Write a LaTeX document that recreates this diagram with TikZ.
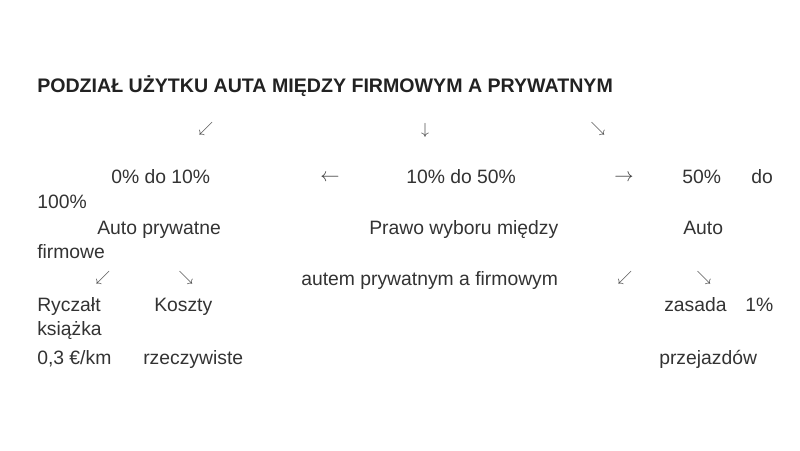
\documentclass[tikz,border=0pt]{standalone}
\usepackage{fontspec}
\setmainfont{Liberation Sans}
\definecolor{textgray}{HTML}{333333}
\definecolor{titlegray}{HTML}{222222}
\definecolor{arrowgray}{HTML}{3a3a3a}
\tikzset{
  txt/.style={anchor=base west, inner sep=0pt, text=textgray, font=\fontsize{14.5}{17}\selectfont},
  ttl/.style={anchor=base west, inner sep=0pt, text=titlegray, font=\fontsize{14.7}{17}\selectfont\bfseries},
  arr/.style={anchor=center, inner sep=0pt, text=arrowgray, font=\fontsize{14}{16}\selectfont},
  diag/.style={arr, font=\fontsize{10.5}{12}\selectfont},
}
\begin{document}
\begin{tikzpicture}[x=0.75pt,y=-0.75pt]
    \useasboundingbox (0,0) rectangle (800,450);
    \fill[white] (0,0) rectangle (800,450);
    \node[ttl] (title) at (37,92) {PODZIAŁ UŻYTKU AUTA MIĘDZY FIRMOWYM A PRYWATNYM};
    % first row of arrows
    \node[diag] (a1) at (206,129) {$\swarrow$};
    \node[arr, font=\fontsize{12.5}{14}\selectfont] (a2) at (425,130) {$\downarrow$};
    \node[diag] (a3) at (598,129) {$\searrow$};
    % three shares
    \node[txt] (s1) at (111,183) {0\% do 10\%};
    \node[arr] (al) at (330,178) {$\leftarrow$};
    \node[txt] (s2) at (406,183) {10\% do 50\%};
    \node[arr] (ar) at (624,178) {$\rightarrow$};
    \node[txt] (s3) at (682,183) {50\%};
    \node[txt] (s3do) at (751,183) {do};
    \node[txt] (s3b) at (37,208) {100\%};
    \node[txt] (c1) at (97,234) {Auto prywatne};
    \node[txt] (c2) at (369,234) {Prawo wyboru między};
    \node[txt] (c3) at (683,234) {Auto};
    \node[txt] (c3b) at (37,258) {firmowe};
    % second row of arrows
    \node[diag] (b1) at (103,278) {$\swarrow$};
    \node[diag] (b2) at (186,278) {$\searrow$};
    \node[txt] (c2b) at (301,285) {autem prywatnym a firmowym};
    \node[diag] (b3) at (625,278) {$\swarrow$};
    \node[diag] (b4) at (704,278) {$\searrow$};
    % methods
    \node[txt] (m1) at (37,311) {Ryczałt};
    \node[txt] (m2) at (154,311) {Koszty};
    \node[txt] (m3) at (664,311) {zasada};
    \node[txt] (m3b) at (745,311) {1\%};
    \node[txt] (m1b) at (37,335) {książka};
    \node[txt] (m1c) at (37,364) {0,3 €/km};
    \node[txt] (m2b) at (143,364) {rzeczywiste};
    \node[txt] (m3c) at (659,364) {przejazdów};
\end{tikzpicture}
\end{document}
